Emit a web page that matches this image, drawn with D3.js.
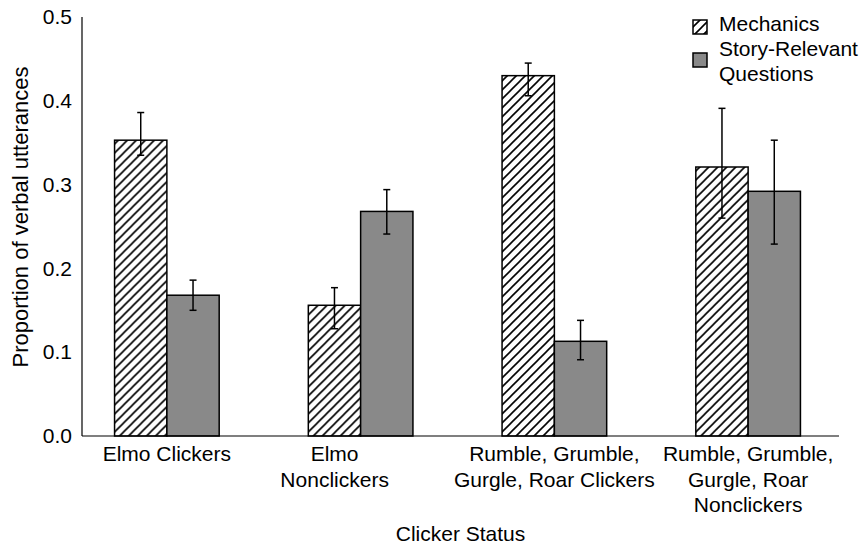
<!DOCTYPE html>
<html>
<head>
<meta charset="utf-8">
<script src="https://cdn.jsdelivr.net/npm/d3@7"></script>
<style>
  body { margin: 0; background: #fff; }
  svg text { font-family: "Liberation Sans", Arial, sans-serif; fill: #000; }
</style>
</head>
<body>
<div id="chart"></div>
<script>
// DATA
const categories = ["Elmo Clickers", "Elmo Nonclickers", "Rumble, Grumble, Gurgle, Roar Clickers", "Rumble, Grumble, Gurgle, Roar Nonclickers"];
const categoryLines = [
	["Elmo Clickers"],
	["Elmo", "Nonclickers"],
	["Rumble, Grumble,", "Gurgle, Roar Clickers"],
	["Rumble, Grumble,", "Gurgle, Roar", "Nonclickers"]
];
const seriesNames = ["Mechanics", "Story-Relevant Questions"];
const mechanics = [0.353, 0.156, 0.430, 0.321];
const mechanicsLow = [0.335, 0.128, 0.406, 0.260];
const mechanicsHigh = [0.386, 0.177, 0.445, 0.391];
const story = [0.168, 0.268, 0.113, 0.292];
const storyLow = [0.150, 0.241, 0.091, 0.229];
const storyHigh = [0.186, 0.294, 0.138, 0.353];
const yTicks = [0, 0.1, 0.2, 0.3, 0.4, 0.5];

// D3.JS
const width = 861, height = 545;
const plotLeft = 82, plotRight = 839, plotTop = 17, plotBottom = 436;
const fontSize = 21;

const svg = d3.select("#chart")
	.append("svg")
	.attr("width", width)
	.attr("height", height);

// hatch pattern
const defs = svg.append("defs");
defs.append("pattern")
	.attr("id", "hatch")
	.attr("patternUnits", "userSpaceOnUse")
	.attr("width", 9)
	.attr("height", 9)
	.call(p => {
		p.append("rect").attr("width", 9).attr("height", 9).attr("fill", "#fff");
		p.append("path")
			.attr("d", "M-1,10 L10,-1 M-3,3 L3,-3 M6,12 L12,6")
			.attr("stroke", "#000")
			.attr("stroke-width", 1.6);
	});

const yScale = d3.scaleLinear()
	.domain([0, 0.5])
	.range([plotBottom, plotTop]);

const xScale = d3.scaleBand()
	.domain(categories)
	.range([70, 845])
	.paddingInner(0.46)
	.paddingOuter(0.23);

const xSub = d3.scaleBand()
	.domain(seriesNames)
	.range([0, xScale.bandwidth()]);

const rows = categories.map((c, i) => ({
	cat: c,
	values: [
		{ s: seriesNames[0], v: mechanics[i], lo: mechanicsLow[i], hi: mechanicsHigh[i] },
		{ s: seriesNames[1], v: story[i], lo: storyLow[i], hi: storyHigh[i] }
	]
}));

const fills = { "Mechanics": "url(#hatch)", "Story-Relevant Questions": "#898989" };

const groups = svg.selectAll("g.group")
	.data(rows)
	.enter()
	.append("g")
	.attr("class", "group")
	.attr("transform", d => `translate(${xScale(d.cat)},0)`);

groups.selectAll("rect")
	.data(d => d.values)
	.enter()
	.append("rect")
	.attr("x", d => xSub(d.s))
	.attr("y", d => yScale(d.v))
	.attr("width", xSub.bandwidth())
	.attr("height", d => yScale(0) - yScale(d.v))
	.attr("fill", d => fills[d.s])
	.attr("stroke", "#000")
	.attr("stroke-width", 1.5);

// error bars
const err = groups.selectAll("g.err")
	.data(d => d.values)
	.enter()
	.append("g")
	.attr("class", "err")
	.attr("stroke", "#000")
	.attr("stroke-width", 1.5);

err.append("line")
	.attr("x1", d => xSub(d.s) + xSub.bandwidth() / 2)
	.attr("x2", d => xSub(d.s) + xSub.bandwidth() / 2)
	.attr("y1", d => yScale(d.lo))
	.attr("y2", d => yScale(d.hi));

["lo", "hi"].forEach(k => {
	err.append("line")
		.attr("x1", d => xSub(d.s) + xSub.bandwidth() / 2 - 3.5)
		.attr("x2", d => xSub(d.s) + xSub.bandwidth() / 2 + 3.5)
		.attr("y1", d => yScale(d[k]))
		.attr("y2", d => yScale(d[k]));
});

// axes
const yAxis = d3.axisLeft(yScale)
	.tickValues(yTicks)
	.tickFormat(d3.format(".1f"))
	.tickSize(0)
	.tickPadding(10);

svg.append("g")
	.attr("transform", `translate(${plotLeft},0)`)
	.call(yAxis)
	.call(g => g.select(".domain").remove())
	.selectAll("text")
	.attr("font-size", fontSize)
	.attr("font-family", "Liberation Sans, Arial, sans-serif");

svg.append("line")
	.attr("x1", plotLeft).attr("x2", plotLeft)
	.attr("y1", plotTop).attr("y2", plotBottom)
	.attr("stroke", "#000").attr("stroke-width", 1.2);

svg.append("line")
	.attr("x1", plotLeft).attr("x2", plotRight)
	.attr("y1", plotBottom).attr("y2", plotBottom)
	.attr("stroke", "#000").attr("stroke-width", 1.2);

// category labels
const labelShift = [0, -26, 0, 0];
svg.selectAll("text.cat")
	.data(categoryLines)
	.enter()
	.append("text")
	.attr("class", "cat")
	.attr("text-anchor", "middle")
	.attr("font-size", fontSize)
	.attr("y", plotBottom + 25)
	.each(function(lines, i) {
		const cx = xScale(categories[i]) + xScale.bandwidth() / 2 + labelShift[i];
		d3.select(this).selectAll("tspan")
			.data(lines)
			.enter()
			.append("tspan")
			.attr("x", cx)
			.attr("dy", (d, j) => j === 0 ? 0 : 25.5)
			.text(d => d);
	});

// axis titles
svg.append("text")
	.attr("x", (plotLeft + plotRight) / 2)
	.attr("y", 541)
	.attr("text-anchor", "middle")
	.attr("font-size", fontSize)
	.text("Clicker Status");

svg.append("text")
	.attr("transform", `translate(28,217) rotate(-90)`)
	.attr("text-anchor", "middle")
	.attr("font-size", 22)
	.text("Proportion of verbal utterances");

// legend
const legend = svg.append("g").attr("transform", "translate(693,0)");
legend.append("rect")
	.attr("x", 0).attr("y", 20).attr("width", 14).attr("height", 14)
	.attr("fill", "url(#hatch)").attr("stroke", "#000").attr("stroke-width", 1.5);
legend.append("text")
	.attr("x", 26).attr("y", 31).attr("font-size", fontSize)
	.text("Mechanics");
legend.append("rect")
	.attr("x", 0).attr("y", 53).attr("width", 14).attr("height", 14)
	.attr("fill", "#898989").attr("stroke", "#000").attr("stroke-width", 1.5);
legend.append("text")
	.attr("font-size", fontSize)
	.selectAll("tspan")
	.data(["Story-Relevant", "Questions"])
	.enter()
	.append("tspan")
	.attr("x", 26)
	.attr("y", (d, i) => 56 + i * 25)
	.text(d => d);
</script>
</body>
</html>
